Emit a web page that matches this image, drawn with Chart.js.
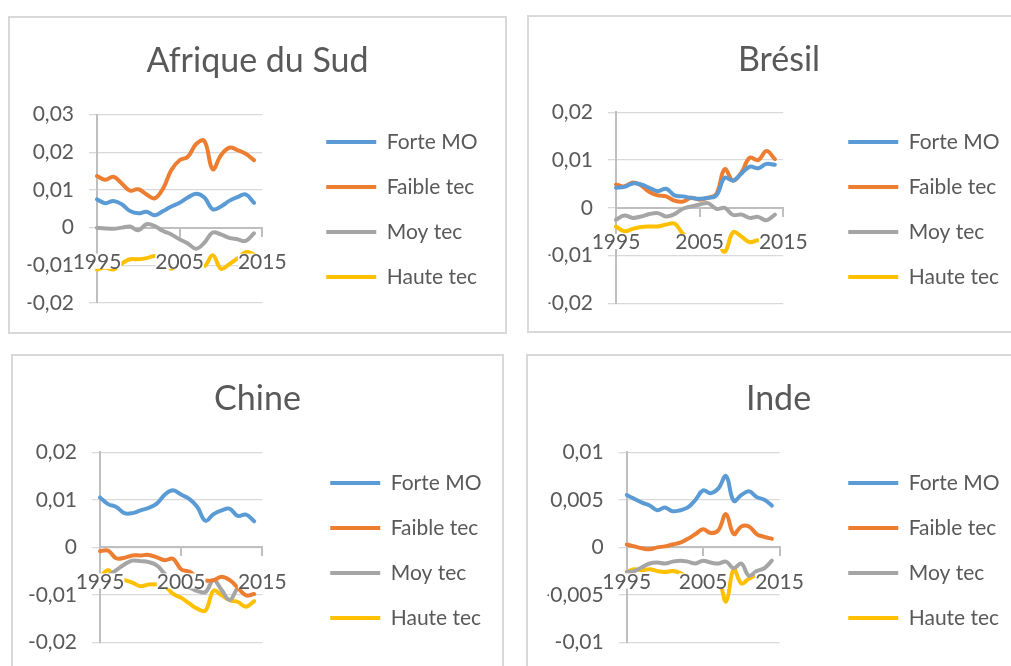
<!DOCTYPE html>
<html lang="fr">
<head>
<meta charset="utf-8">
<title>Afrique du Sud, Brésil, Chine, Inde</title>
<script src="https://cdn.jsdelivr.net/npm/chart.js@4.4.1/dist/chart.umd.min.js"></script>
<style>
html, body { margin: 0; padding: 0; background: #fff; overflow: hidden; }
body { width: 1011px; height: 666px; position: relative; }
.panel { position: absolute; border: 2px solid #d9d9d9; box-sizing: border-box; background: #fff; }
.panel canvas { display: block; }
</style>
</head>
<body>
<div class="panel" style="left:8px;top:16px;width:499px;height:318px"><canvas id="c1" width="495" height="314"></canvas></div>
<div class="panel" style="left:527px;top:15px;width:504px;height:318px"><canvas id="c2" width="500" height="314"></canvas></div>
<div class="panel" style="left:11px;top:354px;width:493px;height:318px"><canvas id="c3" width="489" height="314"></canvas></div>
<div class="panel" style="left:526px;top:354px;width:505px;height:318px"><canvas id="c4" width="501" height="314"></canvas></div>
<script>
var years = ['1995', '1996', '1997', '1998', '1999', '2000', '2001', '2002', '2003', '2004', '2005',
    '2006', '2007', '2008', '2009', '2010', '2011', '2012', '2013', '2014', '2015'];
var seriesNames = ['Forte MO', 'Faible tec', 'Moy tec', 'Haute tec'];
var seriesColors = ['#5B9BD5', '#ED7D31', '#A5A5A5', '#FFC000'];

// Afrique du Sud
var afsForte = [0.0075, 0.0065, 0.0071, 0.0062, 0.0044, 0.0038, 0.0042, 0.0033, 0.0044, 0.0056, 0.0066, 0.008, 0.009, 0.008, 0.0049, 0.0056, 0.0071, 0.0081, 0.0088, 0.0066];
var afsFaible = [0.0137, 0.0127, 0.0135, 0.0117, 0.0098, 0.0102, 0.0088, 0.0078, 0.0104, 0.0153, 0.0179, 0.0188, 0.0222, 0.023, 0.0155, 0.0192, 0.0212, 0.0206, 0.0196, 0.0179];
var afsMoy = [0, -0.0002, -0.0003, 0, 0.0003, -0.0007, 0.0009, 0.0004, -0.0009, -0.0018, -0.0031, -0.0042, -0.0056, -0.004, -0.0013, -0.0018, -0.0027, -0.0031, -0.0035, -0.0015];
var afsHaute = [-0.0111, -0.0106, -0.0111, -0.0095, -0.0084, -0.0084, -0.0081, -0.0075, -0.0082, -0.0109, -0.0086, -0.0075, -0.0086, -0.0102, -0.0073, -0.0109, -0.0097, -0.0082, -0.0065, -0.0071];

// Brésil
var braForte = [0.0042, 0.0044, 0.0051, 0.0049, 0.0042, 0.0035, 0.004, 0.0026, 0.0024, 0.0021, 0.0019, 0.0021, 0.0026, 0.0063, 0.0057, 0.0072, 0.0086, 0.0083, 0.0092, 0.009];
var braFaible = [0.0049, 0.0045, 0.0053, 0.0047, 0.0033, 0.0026, 0.0024, 0.0015, 0.0013, 0.0021, 0.0017, 0.0021, 0.0029, 0.0081, 0.0057, 0.0074, 0.0105, 0.01, 0.0119, 0.0102];
var braMoy = [-0.0025, -0.0016, -0.0021, -0.0018, -0.0013, -0.0011, -0.0018, -0.0013, -0.0002, 0.0003, 0.0007, 0.001, -0.0002, 0, -0.0015, -0.0014, -0.0021, -0.0019, -0.0026, -0.0014];
var braHaute = [-0.0039, -0.0049, -0.0044, -0.004, -0.0039, -0.0039, -0.0035, -0.0033, -0.0054, -0.0065, -0.0067, -0.0066, -0.0067, -0.0092, -0.0051, -0.006, -0.0072, -0.0068, -0.0075, -0.0075];

// Chine
var chnForte = [0.0105, 0.0091, 0.0085, 0.0072, 0.0072, 0.0078, 0.0083, 0.0092, 0.0111, 0.012, 0.0111, 0.0102, 0.0085, 0.0056, 0.007, 0.0078, 0.0081, 0.0066, 0.0069, 0.0055];
var chnFaible = [-0.0008, -0.0007, -0.0023, -0.0022, -0.0017, -0.0017, -0.0016, -0.0021, -0.0027, -0.0024, -0.0046, -0.0051, -0.0063, -0.007, -0.0069, -0.0062, -0.0069, -0.0085, -0.0101, -0.0098];
var chnMoy = [-0.0074, -0.006, -0.0048, -0.0036, -0.0028, -0.0029, -0.0031, -0.0038, -0.0056, -0.0071, -0.0081, -0.0084, -0.0092, -0.0094, -0.0069, -0.009, -0.0111, -0.0085, -0.0076, -0.0078];
var chnHaute = [-0.0063, -0.0048, -0.0065, -0.0069, -0.0074, -0.0082, -0.0078, -0.0078, -0.0082, -0.0098, -0.0106, -0.0118, -0.0129, -0.0133, -0.0091, -0.0101, -0.0111, -0.0115, -0.0125, -0.0113];

// Inde
var indForte = [0.0055, 0.0051, 0.0047, 0.0044, 0.0039, 0.0042, 0.0038, 0.0039, 0.0042, 0.005, 0.006, 0.0057, 0.0062, 0.0075, 0.0049, 0.0055, 0.0059, 0.0053, 0.005, 0.0044];
var indFaible = [0.0003, 0.0001, -0.0001, -0.0002, 0, 0.0001, 0.0003, 0.0005, 0.0009, 0.0014, 0.0019, 0.0015, 0.0018, 0.0035, 0.0014, 0.0022, 0.0022, 0.0014, 0.0011, 0.0009];
var indMoy = [-0.0026, -0.0025, -0.0021, -0.0017, -0.0016, -0.0017, -0.0015, -0.0014, -0.0015, -0.0017, -0.0014, -0.0016, -0.0017, -0.0015, -0.0022, -0.0017, -0.003, -0.0025, -0.0022, -0.0014];
var indHaute = [-0.0026, -0.0023, -0.0024, -0.0023, -0.0025, -0.0026, -0.0025, -0.0027, -0.0031, -0.0034, -0.0039, -0.0038, -0.0034, -0.0057, -0.0023, -0.0038, -0.0033, -0.003, -0.0038, -0.004];

Chart.defaults.font.family = 'Lato';
Chart.defaults.color = '#595959';

var textColor = '#595959';
var gridColor = '#D9D9D9';
var axisColor = '#BFBFBF';

function fmt(v) {
    return String(Math.round(v * 10000) / 10000).replace('.', ',');
}

// box: spacing used to line each chart up with its frame
function drawPanel(id, title, series, yMin, yMax, yStep, box) {
    var datasets = series.map(function (values, i) {
        return {
            label: seriesNames[i],
            data: values,
            xAxisID: 'x',
            yAxisID: 'y',
            borderColor: seriesColors[i],
            backgroundColor: seriesColors[i],
            borderWidth: 4,
            borderCapStyle: 'round',
            pointRadius: 0,
            pointHoverRadius: 0,
            tension: 0.4,
            fill: false
        };
    });

    return new Chart(document.getElementById(id), {
        type: 'line',
        data: { labels: years, datasets: datasets },
        options: {
            responsive: false,
            animation: false,
            events: [],
            layout: { padding: { left: box.side, right: box.side, top: 0, bottom: 0 } },
            plugins: {
                title: {
                    display: true,
                    text: title,
                    color: textColor,
                    font: { size: 34, weight: 'normal' },
                    padding: { top: 23, bottom: box.titleGap - 2 }
                },
                legend: {
                    position: 'right',
                    align: 'start',
                    maxWidth: 300,
                    title: { display: true, text: '', font: { size: 1 }, padding: { top: box.legendTop, bottom: 0 } },
                    labels: {
                        usePointStyle: true,
                        pointStyle: 'line',
                        pointStyleWidth: 50,
                        boxWidth: 50,
                        padding: 24,
                        color: textColor,
                        font: { size: 21 }
                    }
                },
                tooltip: { enabled: false }
            },
            scales: {
                x: {
                    type: 'category',
                    position: { y: 0 },
                    offset: false,
                    grid: { display: true, drawOnChartArea: false, drawTicks: true, tickLength: 8, color: axisColor, lineWidth: 2 },
                    border: { display: true, color: axisColor, width: 2 },
                    ticks: {
                        z: 1,
                        autoSkip: false,
                        maxRotation: 0,
                        padding: 14,
                        color: textColor,
                        font: { size: 21 },
                        showLabelBackdrop: true,
                        backdropColor: '#ffffff',
                        backdropPadding: { top: -4, bottom: -6, left: 0, right: 0 }
                    },
                    afterBuildTicks: function (s) {
                        s.ticks = s.ticks.filter(function (t) { return t.value % 10 === 0; });
                    }
                },
                y: {
                    type: 'linear',
                    position: 'left',
                    min: yMin,
                    max: yMax,
                    grid: { color: gridColor, lineWidth: 1.3, drawTicks: true, tickLength: 8 },
                    border: { display: true, color: axisColor, width: 2 },
                    ticks: {
                        stepSize: yStep,
                        padding: 15,
                        color: textColor,
                        font: { size: 21 },
                        callback: function (v) { return fmt(v); }
                    },
                    afterFit: function (s) { s.width = box.axisW; }
                },
                gapRight: {
                    type: 'linear',
                    position: 'right',
                    grid: { display: false },
                    border: { display: false },
                    ticks: { display: false },
                    afterFit: function (s) { s.width = box.gapRight; }
                },
                gapBottom: {
                    type: 'linear',
                    position: 'bottom',
                    grid: { display: false },
                    border: { display: false },
                    ticks: { display: false },
                    afterFit: function (s) { s.height = box.gapBottom; }
                }
            }
        }
    });
}

drawPanel('c1', 'Afrique du Sud', [afsForte, afsFaible, afsMoy, afsHaute], -0.02, 0.03, 0.01,
    { side: 17.5, axisW: 69.5, gapRight: 40, gapBottom: 29, titleGap: 34.8, legendTop: 88.3 });
drawPanel('c2', 'Brésil', [braForte, braFaible, braMoy, braHaute], -0.02, 0.02, 0.01,
    { side: 19.5, axisW: 67.5, gapRight: 41, gapBottom: 27, titleGap: 33.5, legendTop: 89.3 });
drawPanel('c3', 'Chine', [chnForte, chnFaible, chnMoy, chnHaute], -0.02, 0.02, 0.01,
    { side: 10.5, axisW: 76.5, gapRight: 44, gapBottom: 23.3, titleGap: 34.5, legendTop: 91.3 });
drawPanel('c4', 'Inde', [indForte, indFaible, indMoy, indHaute], -0.01, 0.01, 0.005,
    { side: 19.5, axisW: 79.2, gapRight: 44.7, gapBottom: 22.7, titleGap: 34.5, legendTop: 91.3 });
</script>
</body>
</html>
